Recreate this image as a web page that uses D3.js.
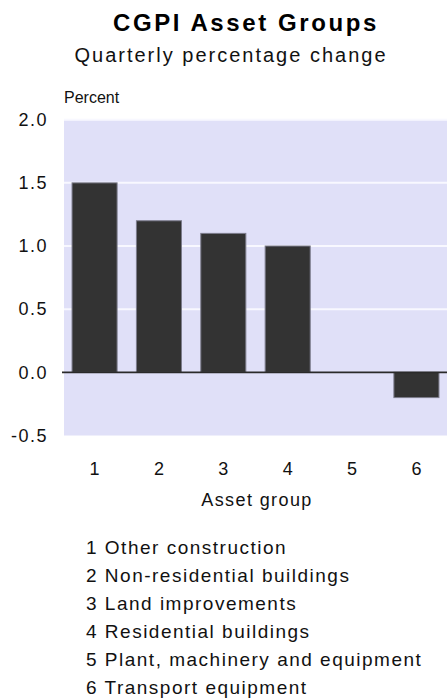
<!DOCTYPE html>
<html>
<head>
<meta charset="utf-8">
<script src="https://cdn.jsdelivr.net/npm/d3@7"></script>
<style>
  html, body { margin: 0; padding: 0; background: #fff; }
  svg { display: block; font-family: "Liberation Sans", Arial, sans-serif; }
</style>
</head>
<body>
<svg id="chart" width="447" height="699"></svg>
<script>
// Asset groups and their quarterly percentage change
const groups = ["1", "2", "3", "4", "5", "6"];
const changes = [1.5, 1.2, 1.1, 1.0, 0.0, -0.2];
const groupNames = [
  "Other construction",
  "Non-residential buildings",
  "Land improvements",
  "Residential buildings",
  "Plant, machinery and equipment",
  "Transport equipment"
];
const yTicks = [-0.5, 0.0, 0.5, 1.0, 1.5, 2.0];

const svg = d3.select("#chart");

const plot = { left: 64, right: 447, top: 119.7, bottom: 435.5 };

const x = d3.scaleBand()
  .domain(groups)
  .range([plot.left, plot.right])
  .paddingInner(0.3)
  .paddingOuter(0.125);

const y = d3.scaleLinear()
  .domain([-0.5, 2.0])
  .range([plot.bottom, plot.top]);

// Titles
svg.append("text")
  .attr("x", 246).attr("y", 31)
  .attr("text-anchor", "middle")
  .attr("font-size", 24).attr("font-weight", "bold")
  .attr("letter-spacing", 2.6)
  .attr("fill", "#000")
  .text("CGPI Asset Groups");

svg.append("text")
  .attr("x", 231).attr("y", 62)
  .attr("text-anchor", "middle")
  .attr("font-size", 20)
  .attr("letter-spacing", 2.0)
  .attr("fill", "#111")
  .text("Quarterly percentage change");

svg.append("text")
  .attr("x", 64).attr("y", 103)
  .attr("font-size", 16)
  .attr("fill", "#111")
  .text("Percent");

// Plot background
svg.append("rect")
  .attr("x", plot.left).attr("y", plot.top)
  .attr("width", plot.right - plot.left)
  .attr("height", plot.bottom - plot.top)
  .attr("fill", "#e0e0f8");

// Gridlines
svg.append("g")
  .selectAll("line")
  .data(yTicks.filter(d => d > 0))
  .join("line")
  .attr("x1", plot.left).attr("x2", plot.right)
  .attr("y1", d => y(d)).attr("y2", d => y(d))
  .attr("stroke", "#f8f8ff")
  .attr("stroke-width", 2);

// Y axis labels (plain hyphen for negatives)
const fmt = d3.format(".1f");
const yAxis = d3.axisLeft(y)
  .tickValues(yTicks)
  .tickFormat(d => fmt(d).replace("\u2212", "-"))
  .tickSize(0)
  .tickPadding(16);

svg.append("g")
  .attr("transform", `translate(${plot.left},0)`)
  .call(yAxis)
  .call(g => g.select(".domain").remove())
  .call(g => g.selectAll("text")
    .attr("font-size", 18)
    .attr("letter-spacing", 1.5)
    .attr("font-family", "Liberation Sans, Arial, sans-serif")
    .attr("fill", "#111"));

// Bars
svg.append("g")
  .selectAll("rect")
  .data(groups.map((g, i) => ({ g, v: changes[i] })).filter(d => d.v !== 0))
  .join("rect")
  .attr("x", d => x(d.g))
  .attr("width", x.bandwidth())
  .attr("y", d => y(Math.max(0, d.v)))
  .attr("height", d => Math.abs(y(d.v) - y(0)))
  .attr("fill", "#333333")
  .attr("stroke", "#7c7c8c")
  .attr("stroke-width", 1);

// Zero line
svg.append("line")
  .attr("x1", plot.left - 2).attr("x2", plot.right)
  .attr("y1", y(0)).attr("y2", y(0))
  .attr("stroke", "#2a2a2a")
  .attr("stroke-width", 1.6);

// X axis labels
const xAxis = d3.axisBottom(x).tickSize(0).tickPadding(27);
svg.append("g")
  .attr("transform", `translate(0,${plot.bottom})`)
  .call(xAxis)
  .call(g => g.select(".domain").remove())
  .call(g => g.selectAll("text")
    .attr("font-size", 18)
    .attr("font-family", "Liberation Sans, Arial, sans-serif")
    .attr("fill", "#111"));

svg.append("text")
  .attr("x", 257).attr("y", 506)
  .attr("text-anchor", "middle")
  .attr("font-size", 18)
  .attr("letter-spacing", 1.4)
  .attr("fill", "#111")
  .text("Asset group");

// Group legend
svg.append("g")
  .selectAll("text")
  .data(groups)
  .join("text")
  .attr("x", 86)
  .attr("y", (d, i) => 554 + i * 28)
  .attr("font-size", 19)
  .attr("letter-spacing", 1.5)
  .attr("fill", "#111")
  .text((d, i) => `${d} ${groupNames[i]}`);
</script>
</body>
</html>
